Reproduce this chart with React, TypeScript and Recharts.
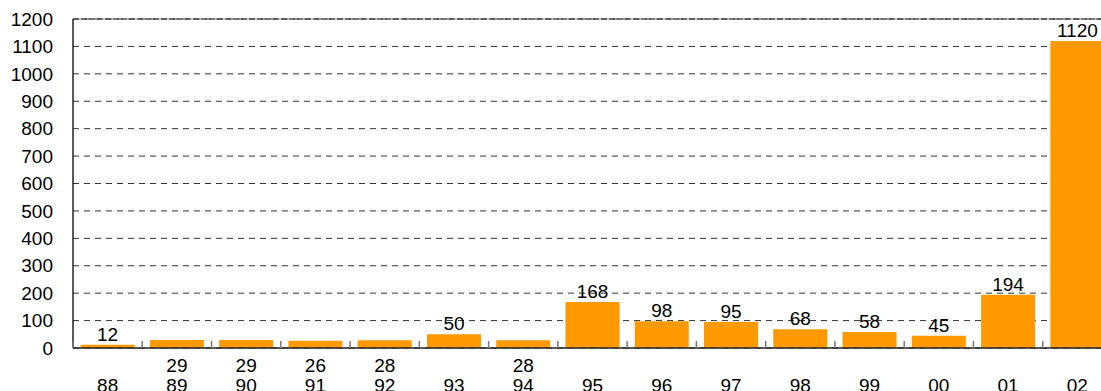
import React from 'react';
import { BarChart, Bar, XAxis, YAxis, CartesianGrid, ReferenceLine, LabelList } from 'recharts';

const years = ['88', '89', '90', '91', '92', '93', '94', '95', '96', '97', '98', '99', '00', '01', '02'];
const counts = [12, 29, 29, 26, 28, 50, 28, 168, 98, 95, 68, 58, 45, 194, 1120];
const yTicks = [0, 100, 200, 300, 400, 500, 600, 700, 800, 900, 1000, 1100, 1200];
// these small values are printed under the axis instead of over the bar
const labelsUnderAxis = ['89', '90', '91', '92', '94'];

const data = years.map((year, i) => ({ year, count: counts[i] }));

const CHART_W = 1112;
const PLOT_LEFT = 73;
const BAND = (CHART_W - PLOT_LEFT) / years.length;
const FONT = '"Liberation Sans", Arial, sans-serif';

function YearTick(props: any) {
  const { x, y, payload, index } = props;
  const under = labelsUnderAxis.includes(payload.value);
  return (
    <g>
      <line x1={x - BAND / 2} x2={x - BAND / 2} y1={y} y2={y - 7} stroke="#777" strokeWidth={1.5} />
      {under && (
        <text x={x} y={y + 24} textAnchor="middle" fill="#000" fontSize={19} fontFamily={FONT}>
          {counts[index]}
        </text>
      )}
      <text x={x} y={y + 44} textAnchor="middle" fill="#000" fontSize={19} fontFamily={FONT}>
        {payload.value}
      </text>
    </g>
  );
}

function ValueLabel(props: any) {
  const { x, y, width, value, index } = props;
  if (labelsUnderAxis.includes(years[index])) return null;
  return (
    <text x={x + width / 2} y={y - 4} textAnchor="middle" fill="#000" fontSize={19} fontFamily={FONT}>
      {value}
    </text>
  );
}

export default function App() {
  return (
    <div style={{ position: 'fixed', left: 0, top: 0, width: 1101, height: 391, overflow: 'hidden', background: '#fff' }}>
      <BarChart
        width={CHART_W}
        height={391}
        data={data}
        margin={{ top: 19, right: 0, bottom: 0, left: 0 }}
        barCategoryGap="11%"
      >
        <CartesianGrid vertical={false} stroke="#333" strokeDasharray="6 5" />
        <ReferenceLine y={1200} stroke="#999" strokeWidth={1} />
        <ReferenceLine y={1200} stroke="#222" strokeDasharray="6 2" />
        <XAxis
          dataKey="year"
          height={43}
          interval={0}
          tickLine={false}
          tickSize={0}
          tickMargin={0}
          axisLine={{ stroke: '#222', strokeWidth: 1.5 }}
          tick={<YearTick />}
        />
        <YAxis
          width={PLOT_LEFT}
          domain={[0, 1200]}
          ticks={yTicks}
          interval={0}
          tickLine={false}
          tickSize={0}
          tickMargin={20}
          axisLine={{ stroke: '#222', strokeWidth: 1.5 }}
          tick={{ fill: '#000', fontSize: 19, fontFamily: FONT }}
        />
        <Bar dataKey="count" fill="#FF9900" isAnimationActive={false}>
          <LabelList dataKey="count" content={<ValueLabel />} />
        </Bar>
      </BarChart>
    </div>
  );
}
